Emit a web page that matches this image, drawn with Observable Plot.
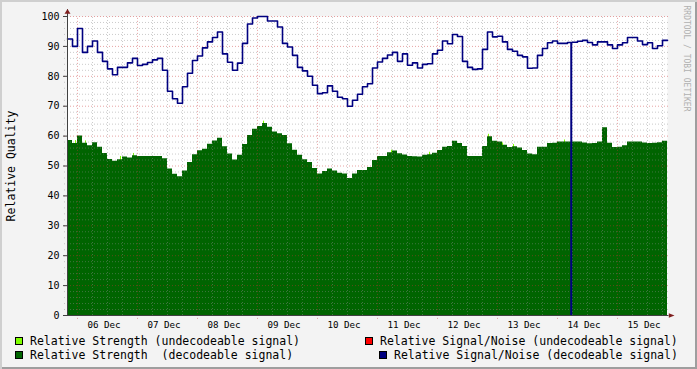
<!DOCTYPE html>
<html><head><meta charset="utf-8">
<script src="https://cdn.jsdelivr.net/npm/d3@7"></script>
<script src="https://cdn.jsdelivr.net/npm/@observablehq/plot@0.6"></script>
<style>
html,body{margin:0;padding:0;background:#f3f3f3;}
#wrap{position:relative;width:697px;height:369px;background:#f3f3f3;box-shadow:inset 2px 2px 0 #cfcfcf, inset -2px -2px 0 #9e9e9e;overflow:hidden;font-family:"DejaVu Sans Mono",monospace;}
#chart{position:absolute;left:0;top:0;}
.lg{position:absolute;font-size:11.5px;line-height:14px;white-space:pre;color:#000;}
.sw{position:absolute;width:6px;height:6px;border:1px solid #000;}
</style></head><body><div id="wrap"><div id="chart"></div></div>
<script>
// ---- data ----
const startTime = "2023-12-05T20:00Z";
const stepHours = 2;
const snr = [92.5, 90, 96, 88, 90, 91.8, 88, 85, 82.5, 80.5,
 83, 83, 84.5, 86, 83.6, 84, 84.6, 85.5, 86, 82,
 75, 72.5, 71, 76.5, 81, 85.3, 86.8, 89.5, 91.5, 93,
 94.8, 87.5, 84.7, 82, 84.4, 91, 97.5, 99.5, 100, 100,
 98.5, 98.5, 96.5, 91, 89.8, 87, 83, 81.8, 80, 77,
 74.2, 74.5, 76.8, 75, 73, 72.5, 70, 72, 74, 76.5,
 77.5, 82.8, 84.8, 86, 87.1, 88, 85, 87.5, 83.7, 84.5,
 82.8, 84, 84.2, 87.5, 88.7, 91.8, 90.9, 94, 93.3, 85,
 83, 82.3, 82.5, 89, 94.8, 93.2, 93.4, 91.5, 89, 88.4,
 87, 86.5, 82.7, 82.8, 87, 89.3, 91.2, 91.8, 91, 91,
 91.3, 91.4, 91.7, 92, 91.3, 90.5, 91.5, 91.5, 90.5, 89.3,
 90.5, 91.2, 93, 93, 91.8, 90.6, 91.2, 89.3, 90.2, 92];
const strength = [58.5, 57.5, 60, 57.6, 56.8, 57.8, 56.3, 54.2, 52.2, 51.6,
 52.1, 53, 52.7, 53.4, 53.2, 53.2, 53.2, 53.2, 53.2, 52.4,
 49, 47.2, 46.4, 48.3, 51.2, 53.8, 55.1, 55.6, 57.3, 58.4,
 59.3, 56.4, 54, 52, 53.6, 57.2, 60.2, 62.3, 63.2, 64.2,
 63, 61.4, 60.8, 60.2, 57.4, 55.3, 53.6, 52.1, 51.2, 49.2,
 47.3, 48.2, 49, 48.3, 47.6, 47.3, 45.8, 47.3, 48.5, 48.5,
 49.5, 51.8, 53.2, 53.2, 54.4, 55, 54.1, 53.7, 53.2, 53.1,
 53, 53.6, 53.8, 54.3, 55.2, 56.3, 56.5, 58.3, 57.5, 56.5,
 53.2, 53.2, 53.2, 56.5, 59.8, 58.3, 58, 56.9, 56.2, 56.4,
 56, 55.2, 54, 53.8, 56.3, 56.3, 57.5, 57.6, 58, 58,
 58, 58, 58, 57.7, 57.4, 57.5, 58, 62.8, 57.6, 56.2,
 56.3, 56.8, 58, 58, 58, 57.7, 57.5, 57.6, 57.8, 58.3];
const undecTimes = ["2023-12-05T23:12Z","2023-12-06T03:12Z","2023-12-06T17:12Z","2023-12-06T22:24Z",
 "2023-12-09T02:24Z","2023-12-11T05:36Z","2023-12-11T20:48Z","2023-12-12T20:24Z",
 "2023-12-13T02:00Z","2023-12-13T06:24Z","2023-12-14T02:48Z"];
const undecStrength = [58.5, 58.4, 53.2, 54.2, 65, 55.3, 54.6, 60.6, 57.7, 57.2, 58.7];
const dropTimes = ["2023-12-14T05:30Z"];
const dayLabels = ["06 Dec","07 Dec","08 Dec","09 Dec","10 Dec","11 Dec","12 Dec","13 Dec","14 Dec","15 Dec"];
const legendLabels = ["Relative Strength (undecodeable signal)", "Relative Signal/Noise (undecodeable signal)",
 "Relative Strength  (decodeable signal)", "Relative Signal/Noise (decodeable signal)"];
const legendColors = ["#7fff00", "#ff0000", "#006400", "#000080"];

// ---- build ----
const H = 3600e3;
const t0 = new Date(startTime);
const data = strength.map((v, i) => ({t: new Date(+t0 + i * stepHours * H), strength: v, snr: snr[i]}));
const tEnd = new Date(+t0 + strength.length * stepHours * H);
data.push({t: tEnd, strength: strength[strength.length - 1], snr: snr[snr.length - 1]});
const undec = undecTimes.map((s, i) => ({t: new Date(s), v: undecStrength[i]}));
const drops = dropTimes.map(s => {
  const t = new Date(s);
  const i = Math.floor((t - t0) / (stepHours * H));
  return {t, v: snr[i]};
});
const dayTicks = dayLabels.map((_, i) => new Date(+d3.utcDay.ceil(t0) + i * 24 * H + 12 * H));
const majorX = d3.utcDay.range(t0, tEnd);
const minorX = d3.utcHour.every(6).range(t0, tEnd).filter(d => d.getUTCHours() !== 0);
const majorY = d3.range(0, 101, 10);
const minorY = d3.range(2, 100, 2).filter(v => v % 10 !== 0);
const gx1 = new Date(+t0 - 1.2 * H), gx2 = new Date(+tEnd + 1 * H);
const axisColor = "#404040";

const upArrow = {draw(ctx) { ctx.moveTo(0, -7.5); ctx.lineTo(3, -2.7); ctx.lineTo(-3, -2.7); ctx.closePath(); }};
const rightArrow = {draw(ctx) { ctx.moveTo(7, 0); ctx.lineTo(1.3, -2.3); ctx.lineTo(1.3, 2.3); ctx.closePath(); }};

const chart = Plot.plot({
  width: 697, height: 332,
  marginLeft: 67, marginRight: 30, marginTop: 16, marginBottom: 17,
  style: {background: "transparent", fontFamily: "DejaVu Sans Mono", overflow: "visible", color: "#000"},
  x: {type: "utc", domain: [t0, tEnd]},
  y: {domain: [0, 100]},
  marks: [
    Plot.frame({fill: "white", stroke: null}),
    Plot.rectY(undec, {x1: "t", x2: d => new Date(+d.t + 0.4 * H), y: "v", fill: "#7fff00"}),
    Plot.areaY(data, {x: "t", y: "strength", curve: "step-after", fill: "#006400"}),
    Plot.ruleY(minorY, {x1: gx1, x2: gx2, stroke: "#8c8c8c", strokeOpacity: 0.45, strokeDasharray: "1,2"}),
    Plot.ruleX(minorX, {y1: 0, y2: 100, stroke: "#8c8c8c", strokeOpacity: 0.45, strokeDasharray: "1,2"}),
    Plot.ruleY(majorY.filter(v => v > 0), {x1: gx1, x2: gx2, stroke: "#c83232", strokeOpacity: 0.45, strokeDasharray: "1,2"}),
    Plot.ruleX(majorX, {y1: -1.3, y2: 100, stroke: "#c83232", strokeOpacity: 0.45, strokeDasharray: "1,2"}),
    Plot.lineY(data, {x: "t", y: "snr", curve: "step-after", stroke: "#000080", strokeWidth: 1.6}),
    Plot.ruleX(drops, {x: "t", y1: 0, y2: "v", stroke: "#000080", strokeWidth: 2}),
    Plot.ruleX([t0], {y1: 0, y2: 102.3, stroke: axisColor}),
    Plot.ruleY([0], {x1: t0, x2: new Date(+tEnd + 0.6 * H), stroke: axisColor}),
    Plot.axisY({ticks: majorY, tickSize: 4, tickPadding: 4, fontSize: 10, stroke: axisColor, label: null}),
    Plot.axisX({ticks: dayTicks, tickSize: 0, tickPadding: 6, fontSize: 9.2, dx: -3.5,
      tickFormat: (d, i) => dayLabels[i], label: null}),
    Plot.dot([0], {frameAnchor: "top-left", symbol: upArrow, fill: "#7f1f1f", stroke: null}),
    Plot.dot([0], {frameAnchor: "bottom-right", symbol: rightArrow, fill: "#7f1f1f", stroke: null}),
    Plot.text([0], {frameAnchor: "left", text: () => "Relative Quality", rotate: -90, dx: -56, fontSize: 11.5, textAnchor: "middle"}),
    Plot.text([0], {frameAnchor: "top-right", text: () => "RRDTOOL / TOBI OETIKER", rotate: 90, dx: 22, dy: -11,
      textAnchor: "start", fontSize: 8, fill: "#b0b0b0"})
  ]
});
document.getElementById("chart").appendChild(chart);

// legend
const wrap = document.getElementById("wrap");
const legendPos = [
  {sx: 15, tx: 30, sy: 337, ty: 334},
  {sx: 365, tx: 380, sy: 337, ty: 334},
  {sx: 15, tx: 30, sy: 351, ty: 348},
  {sx: 379, tx: 394, sy: 351, ty: 348}
];
legendLabels.forEach((lab, i) => {
  const p = legendPos[i];
  const sw = document.createElement("div");
  sw.className = "sw"; sw.style.left = p.sx + "px"; sw.style.top = p.sy + "px"; sw.style.background = legendColors[i];
  wrap.appendChild(sw);
  const tx = document.createElement("div");
  tx.className = "lg"; tx.style.left = p.tx + "px"; tx.style.top = p.ty + "px"; tx.textContent = lab;
  wrap.appendChild(tx);
});
</script></body></html>
